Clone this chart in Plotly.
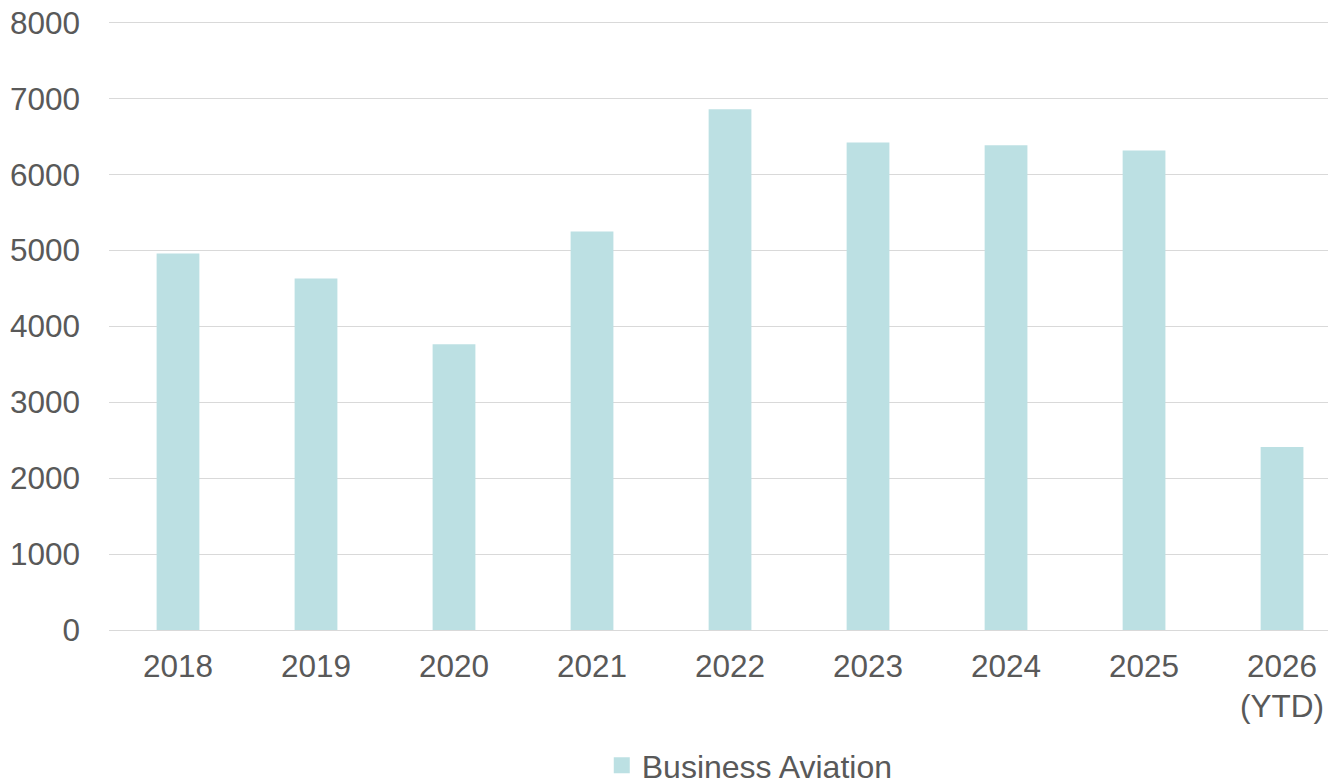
import plotly.graph_objects as go

categories = ["2018", "2019", "2020", "2021", "2022", "2023", "2024", "2025", "2026<br>(YTD)"]
values = [4960, 4630, 3765, 5250, 6860, 6420, 6385, 6315, 2410]
series_name = "Business Aviation"
y_ticks = [0, 1000, 2000, 3000, 4000, 5000, 6000, 7000, 8000]

FONT = "Liberation Sans, Arial, sans-serif"
TXT = "#595959"
BAR = "#bce0e3"

fig = go.Figure()
fig.add_trace(go.Bar(
    x=categories, y=values, name=series_name,
    marker=dict(color=BAR, line=dict(width=0)),
    width=0.31, showlegend=False,
))
# legend entry with a larger square swatch
fig.add_trace(go.Scatter(
    x=[None], y=[None], mode="markers", name=series_name,
    marker=dict(symbol="square", size=18, color=BAR), showlegend=True,
))

# page body has an 8px margin, so the figure is sized/offset to compensate
fig.update_layout(
    width=1336, height=772,
    margin=dict(l=101, r=0, t=13, b=150, pad=0, autoexpand=False),
    paper_bgcolor="white", plot_bgcolor="white",
    font=dict(family=FONT, size=31, color=TXT),
    showlegend=True,
    legend=dict(orientation="h", x=0.399, xanchor="left", y=-0.2225, yanchor="middle",
                font=dict(family=FONT, size=32, color=TXT), bgcolor="rgba(0,0,0,0)",
                itemsizing="trace"),
)
fig.update_xaxes(
    type="category", range=[-0.5, 8.449], showgrid=False, zeroline=False,
    showline=False, ticks="", ticklabelstandoff=14, automargin=False,
    tickfont=dict(family=FONT, size=31.5, color=TXT), fixedrange=True,
)
fig.update_yaxes(
    range=[0, 8022], tickvals=y_ticks, showgrid=True, gridcolor="#d9d9d9", gridwidth=1.3,
    zeroline=True, zerolinecolor="#d9d9d9", zerolinewidth=1.3, showline=False,
    ticks="", ticklabelstandoff=28, automargin=False, ticklabeloverflow="allow",
    tickfont=dict(family=FONT, size=31.5, color=TXT), fixedrange=True,
)

fig.write_html("out.html")
